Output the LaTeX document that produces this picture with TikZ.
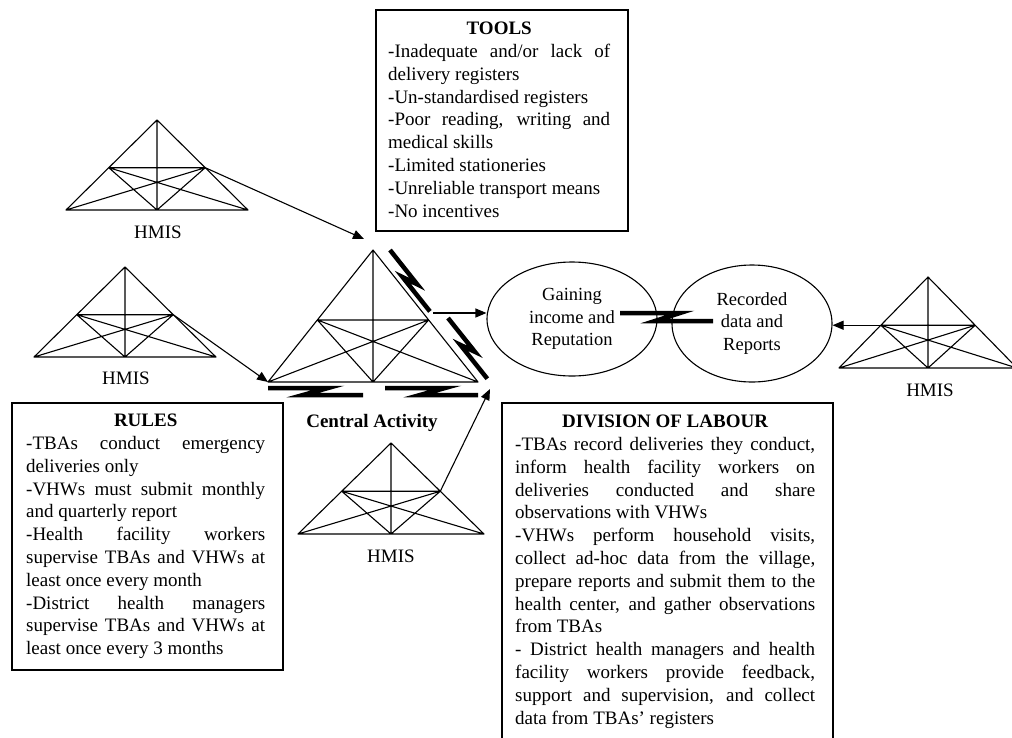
\documentclass[tikz,border=0pt]{standalone}
\usepackage{fontspec}
\setmainfont{Liberation Serif}
\usetikzlibrary{calc,shapes.geometric,arrows.meta}
\tikzset{
  tri/.style={line width=1.1pt, line join=round},
  boxline/.style={draw, line width=1.1pt},
  conn/.style={line width=1.1pt, -{Triangle[length=11pt,width=9pt]}},
  zigzag/.style={line width=4.5pt},
  txt/.style={font=\fontsize{19}{22.8}\selectfont, inner sep=0pt, align=justify, anchor=north west},
  lbl/.style={font=\fontsize{19}{22.8}\selectfont, inner sep=0pt},
  oval/.style={ellipse, draw, line width=1.1pt, inner sep=0pt, align=center,
    font=\fontsize{18.5}{22.5}\selectfont},
}
\newcommand{\hmistri}[5]{%
  \coordinate (#1A) at (#2,#3);
  \coordinate (#1BL) at ($(#2,#3)+(-#4,#5)$);
  \coordinate (#1BR) at ($(#2,#3)+(#4,#5)$);
  \coordinate (#1BM) at ($(#2,#3)+(0,#5)$);
  \coordinate (#1L) at ($(#1A)!0.53!(#1BL)$);
  \coordinate (#1R) at ($(#1A)!0.53!(#1BR)$);
  \draw[tri] (#1A)--(#1BL)--(#1BR)--cycle
    (#1A)--(#1BM) (#1L)--(#1R) (#1L)--(#1BM)--(#1R)
    (#1L)--(#1BR) (#1R)--(#1BL);
}
\begin{document}
\begin{tikzpicture}[x=1pt,y=-1pt]
\useasboundingbox (0,0) rectangle (1012,737);

% triangles
\hmistri{T1}{157}{120}{91}{90}
\hmistri{T2}{125}{267}{91}{90}
\hmistri{TC}{373}{250}{105}{132}
\hmistri{T3}{391}{443}{93}{91}
\hmistri{T4}{928}{277}{89}{91}

% labels
\node[lbl] (h1) at (158,232) {HMIS};
\node[lbl] (h2) at (126,378) {HMIS};
\node[lbl] (h3) at (391,556) {HMIS};
\node[lbl] (h4) at (930,390) {HMIS};
\node[lbl, font={\fontsize{19}{22.8}\selectfont\bfseries}] (ca) at (372,423) {Central Activity};

% ellipses
\node[oval, minimum width=170pt, minimum height=114pt] (gain) at (572,319) {Gaining\\income and\\Reputation};
\node[oval, minimum width=160pt, minimum height=117pt] (rec) at (752,323.5) {Recorded\\data and\\Reports};

% boxes
\draw[boxline] (376,10) rectangle (628,231);
\draw[boxline] (12,403) rectangle (283,670);
\draw[boxline] (502,403) rectangle (833,745);

\node[txt, text width=222pt] (tools) at (388,22) {%
\makebox[\linewidth]{\textbf{TOOLS}}\par
-Inadequate and/or lack of\linebreak delivery registers\par
-Un-standardised registers\par
-Poor reading, writing and\linebreak medical skills\par
-Limited stationeries\par
-Unreliable transport means\par
-No incentives\par};

\node[txt, text width=239pt] (rules) at (26,414) {%
\makebox[\linewidth]{\textbf{RULES}}\par
-TBAs conduct emergency\linebreak deliveries only\par
-VHWs must submit monthly\linebreak and quarterly report\par
-Health facility workers\linebreak supervise TBAs and VHWs at\linebreak least once every month\par
-District health managers\linebreak supervise TBAs and VHWs at\linebreak least once every 3 months\par};

\node[txt, text width=300pt] (div) at (515,415) {%
\makebox[\linewidth]{\textbf{DIVISION OF LABOUR}}\par
-TBAs record deliveries they conduct,\linebreak inform health facility workers on\linebreak deliveries conducted and share\linebreak observations with VHWs\par
-VHWs perform household visits,\linebreak collect ad-hoc data from the village,\linebreak prepare reports and submit them to the\linebreak health center, and gather observations\linebreak from TBAs\par
- District health managers and health\linebreak facility workers provide feedback,\linebreak support and supervision, and collect\linebreak data from TBAs’ registers\par};

% arrows
\coordinate (a1e) at (364,239);
\draw[conn] (T1R) -- (a1e);
\draw[conn] (T2R) -- (TCBL);
\coordinate (a3s) at (433,313);
\draw[conn] (a3s) -- (a3s -| gain.west);
\coordinate (a4e) at (490,389);
\draw[conn] (T3R) -- (a4e);
\draw[conn] (T4L) -- (T4L -| rec.east);

% zigzags (contradictions)
\draw[zigzag] (390,250) -- (417.2,284.3) -- (402.7,277.2) -- (429.9,311.4);
\draw[zigzag] (448,318) -- (474.9,351.8) -- (460.4,344.9) -- (487.3,378.7);
\draw[zigzag] (268,388) -- (328,388) -- (303,395) -- (363,395);
\draw[zigzag] (385,388) -- (445,388) -- (420,395) -- (478,395);
\draw[zigzag] (620,313) -- (680,313) -- (655,321) -- (713,321);
\end{tikzpicture}
\end{document}
